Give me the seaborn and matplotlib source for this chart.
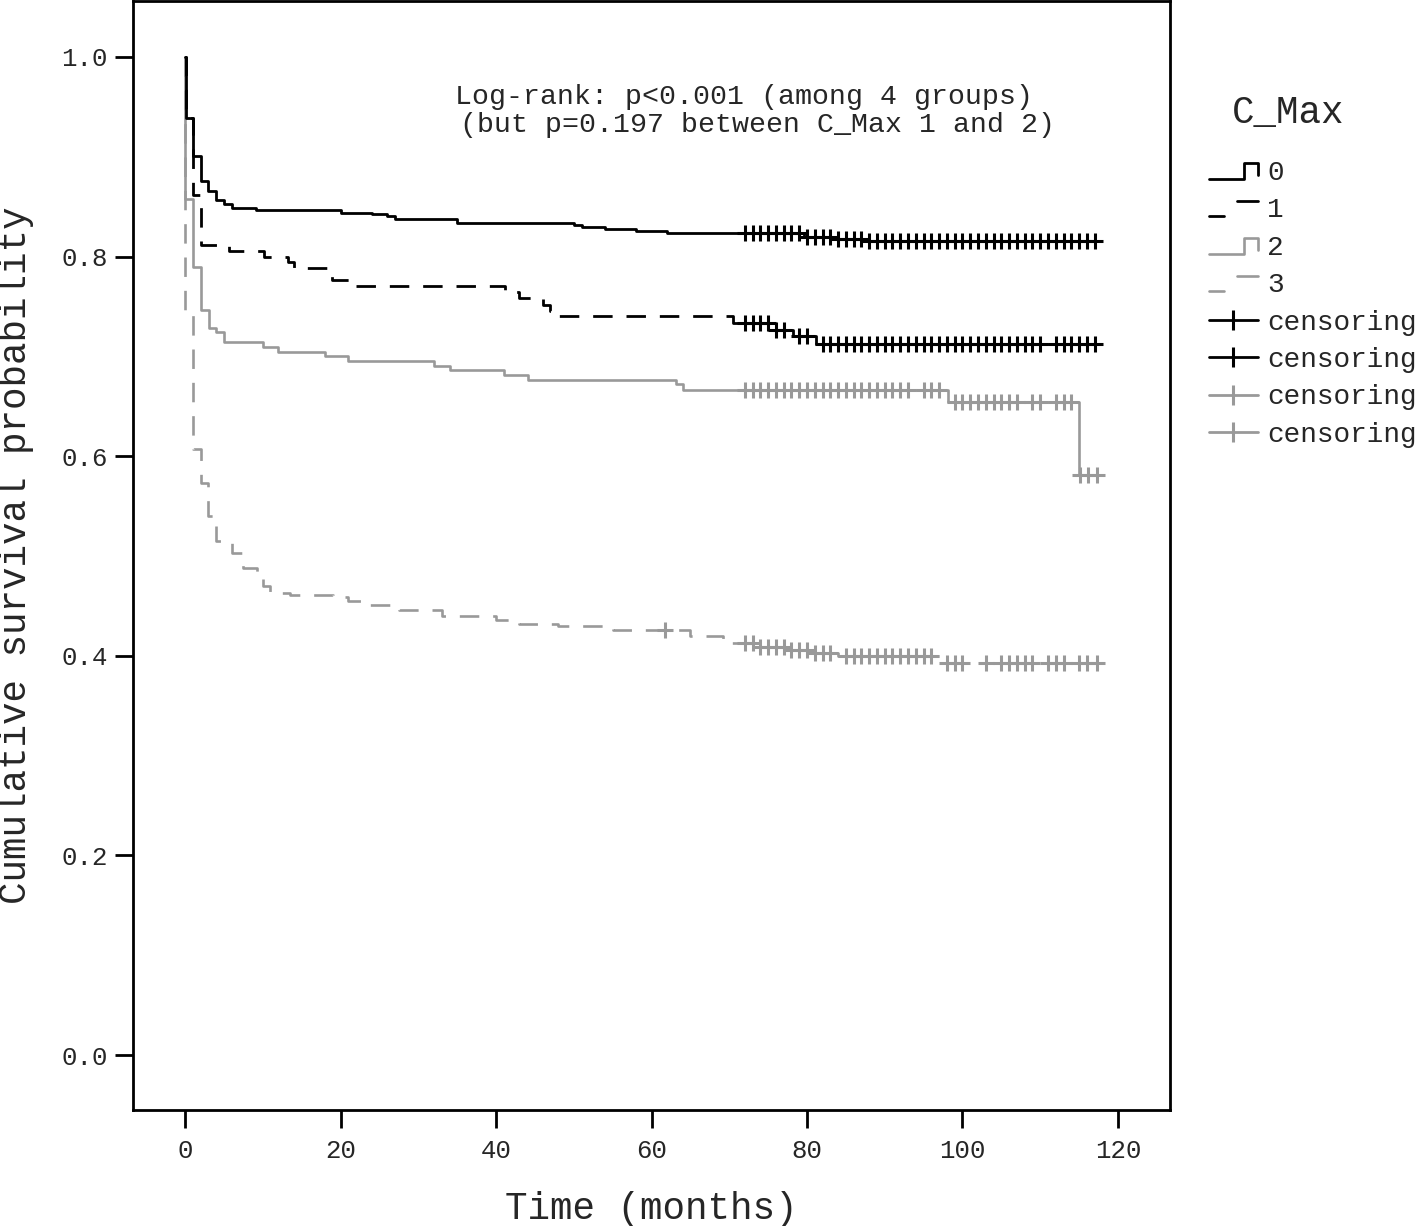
import numpy as np
import pandas as pd
import matplotlib
matplotlib.use("Agg")
import matplotlib.pyplot as plt
import seaborn as sns
from matplotlib.lines import Line2D
from matplotlib.legend_handler import HandlerLine2D

# ---------------- data ----------------
group_labels = ["0", "1", "2", "3"]

g0_time = [0, 0.15, 1.05, 2.05, 3.0, 3.95, 5.0, 6.0, 9.1, 20.0, 24.0, 26.0, 27.0, 35.0,
           50.0, 51.0, 54.0, 58.0, 62.0, 79.6, 83.6, 87.5]
g0_surv = [1.0, 0.939, 0.901, 0.876, 0.866, 0.857, 0.853, 0.849, 0.847, 0.844, 0.843, 0.841,
           0.838, 0.834, 0.832, 0.830, 0.828, 0.826, 0.824, 0.820, 0.818, 0.8155]
g0_cens = [72, 73, 74, 75, 76, 77, 78, 79, 80, 81, 82, 83, 84, 85, 86, 87, 88, 89, 90, 91,
           92, 93, 94, 95, 96, 97, 98, 99, 100, 101, 102, 103, 104, 105, 106, 107, 108, 109,
           110, 111, 112, 113, 114, 115, 116, 117]

g1_time = [0, 0.15, 1.05, 2.05, 5.7, 10.2, 13.2, 14.0, 18.2, 18.9, 22.0, 41.2, 43.0, 46.0,
           47.0, 48.0, 70.5, 75.5, 78.2, 81.2]
g1_surv = [1.0, 0.939, 0.862, 0.812, 0.806, 0.800, 0.795, 0.788, 0.781, 0.776, 0.770, 0.764,
           0.758, 0.751, 0.745, 0.740, 0.733, 0.7265, 0.720, 0.7125]
g1_cens = [72, 73, 74, 75, 76, 77, 79, 80, 82, 83, 84, 85, 86, 87, 88, 89, 90, 91, 92, 93,
           94, 95, 96, 97, 98, 99, 100, 101, 102, 103, 104, 105, 106, 107, 108, 109, 110,
           112, 113, 114, 115, 116, 117]

g2_time = [0, 0, 1.0, 2.1, 3.1, 4.0, 5.0, 10.0, 12.0, 18.0, 21.0, 32.0, 34.1, 41.0, 44.1,
           63.2, 64.1, 98.2, 115.0]
g2_surv = [1.0, 0.858, 0.789, 0.746, 0.728, 0.724, 0.714, 0.709, 0.704, 0.700, 0.695, 0.690,
           0.686, 0.681, 0.676, 0.672, 0.666, 0.654, 0.581]
g2_cens = [72, 73, 74, 75, 76, 77, 78, 79, 80, 81, 82, 83, 84, 85, 86, 87, 88, 89, 90, 91,
           92, 93, 95, 96, 97, 99, 100, 101, 102, 103, 104, 105, 106, 107, 109, 110, 112,
           113, 114, 115.1, 116.2, 117.3]

g3_time = [0, 0, 1.0, 2.0, 3.0, 4.0, 6.0, 7.5, 9.2, 10.0, 10.9, 13.5, 19.0, 21.0, 23.0,
           27.5, 33.0, 40.0, 43.0, 48.0, 55.0, 65.0, 69.2, 73.5, 77.7, 80.7, 84.0, 97.1]
g3_surv = [1.0, 0.743, 0.607, 0.573, 0.540, 0.515, 0.503, 0.488, 0.481, 0.470, 0.463, 0.461,
           0.459, 0.455, 0.451, 0.446, 0.440, 0.436, 0.432, 0.430, 0.426, 0.420, 0.4125,
           0.409, 0.406, 0.403, 0.400, 0.3925]
g3_cens = [61.7, 72, 73, 74, 75, 76, 77, 78, 79, 80, 81, 82, 83, 85, 86, 87, 88, 89, 90, 91,
           92, 93, 94, 95, 96, 98, 99, 100, 103, 105, 106, 107, 108, 109, 111, 112, 113,
           115, 116, 117.3]

x_ticks = [0, 20, 40, 60, 80, 100, 120]
y_ticks = [0.0, 0.2, 0.4, 0.6, 0.8, 1.0]
y_tick_labels = ["0.0", "0.2", "0.4", "0.6", "0.8", "1.0"]

annot_line1 = "Log-rank: p<0.001 (among 4 groups)"
annot_line2 = "(but p=0.197 between C_Max 1 and 2)"

# ---------------- style ----------------
sns.set_style("ticks")
plt.rcParams["font.family"] = ["Liberation Mono", "DejaVu Sans Mono"]
plt.rcParams["lines.scale_dashes"] = False

BLACK = "#000000"
GRAY = "#999999"
DASH = (14.0, 10.0)

groups = [
    (g0_time, g0_surv, g0_cens, BLACK, False, 2.0),
    (g1_time, g1_surv, g1_cens, BLACK, True, 2.0),
    (g2_time, g2_surv, g2_cens, GRAY, False, 1.9),
    (g3_time, g3_surv, g3_cens, GRAY, True, 1.9),
]

fig = plt.figure(figsize=(14.24, 12.26), dpi=100)
ax = fig.add_axes([133 / 1424, 1 - 1110 / 1226, (1170 - 133) / 1424, (1110 - 1) / 1226])

for (t, s, c, col, dashed, lw) in reversed(groups):
    t = list(t)
    s = list(s)
    t_end = max(c)
    df = pd.DataFrame({"time": t + [t_end], "surv": s + [s[-1]]})
    sns.lineplot(data=df, x="time", y="surv", drawstyle="steps-post", color=col,
                 linewidth=lw, estimator=None, sort=False, legend=False, ax=ax)
    line = ax.lines[-1]
    if dashed:
        line.set_dashes(DASH)
    # censoring marks placed at the curve value at each censor time
    tt = np.asarray(t)
    ss = np.asarray(s)
    cy = [ss[np.searchsorted(tt, ci, side="right") - 1] for ci in c]
    sns.scatterplot(x=c, y=cy, marker="+", s=135, linewidth=2.2, color=col,
                    legend=False, ax=ax, zorder=3)

ax.set_xlim(-6.7, 126.7)
ax.set_ylim(-0.0551, 1.056)
ax.set_xticks(x_ticks)
ax.set_xticklabels([str(v) for v in x_ticks])
ax.set_yticks(y_ticks)
ax.set_yticklabels(y_tick_labels)
for sp in ax.spines.values():
    sp.set_visible(True)
    sp.set_linewidth(2.0)
    sp.set_color("black")
ax.tick_params(axis="both", length=13, width=2.0, color="black", labelsize=18.5)
ax.tick_params(axis="x", pad=8)
ax.tick_params(axis="y", pad=5)
ax.set_xlabel("Time (months)", fontsize=27, labelpad=20)
ax.set_ylabel("Cumulative survival probability", fontsize=27, labelpad=20)

ax.text((455 - 185) / 7.775, (1055 - 97) / 998, annot_line1, fontsize=20.3,
        ha="left", va="center")
ax.text((460 - 185) / 7.775, (1055 - 125) / 998, annot_line2, fontsize=20.3,
        ha="left", va="center")


class StepHandler(HandlerLine2D):
    def __init__(self, dashed=False, **kw):
        super().__init__(**kw)
        self.dashed = dashed

    def create_artists(self, legend, orig_handle, xdescent, ydescent, width, height,
                       fontsize, trans):
        x0 = -xdescent
        x1 = x0 + width
        yl = -ydescent + 0.05 * height
        yh = -ydescent + 0.85 * height
        if self.dashed:
            segs = [([x0, x0 + 0.31 * width], [yl, yl]),
                    ([x0 + 0.58 * width, x1], [yh, yh])]
        else:
            xm = x0 + 0.71 * width
            segs = [([x0, xm, xm, x1, x1], [yl, yl, yh, yh, yh - 0.75 * (yh - yl)])]
        arts = []
        for xs, ys in segs:
            ln = Line2D(xs, ys)
            self.update_prop(ln, orig_handle, legend)
            ln.set_linestyle("-")
            ln.set_transform(trans)
            arts.append(ln)
        return arts


handles = []
handler_map = {}
for (t, s, c, col, dashed, lw) in groups:
    h = Line2D([], [], color=col, linewidth=lw)
    handles.append(h)
    handler_map[h] = StepHandler(dashed=dashed)
for col in [BLACK, BLACK, GRAY, GRAY]:
    handles.append(Line2D([], [], color=col, linewidth=2.0, marker="|", markersize=14,
                          markeredgewidth=2.2))
labels = group_labels + ["censoring"] * 4

fig.legend(handles, labels, handler_map=handler_map, loc="upper left",
           bbox_to_anchor=(1209 / 1424, 1 - 160 / 1226), frameon=False, fontsize=20,
           handlelength=1.75, handletextpad=0.35, labelspacing=0.41, borderpad=0,
           borderaxespad=0)
fig.text(1232 / 1424, 1 - 113 / 1226, "C_Max", fontsize=27, ha="left", va="center")

fig.savefig("out.png", dpi=100)
